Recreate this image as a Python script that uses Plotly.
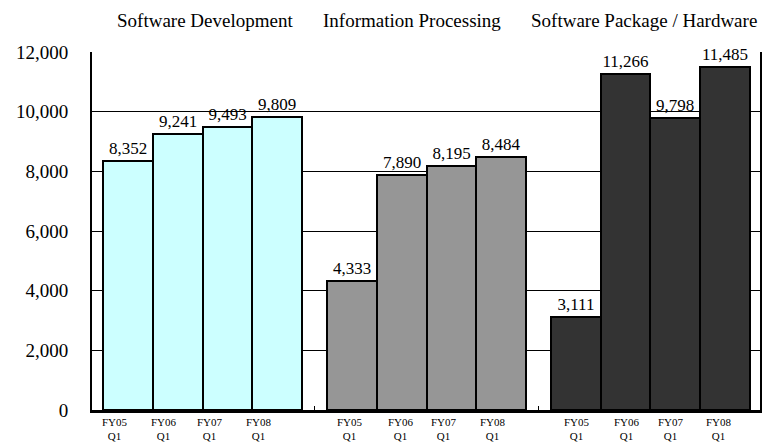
import plotly.graph_objects as go

groups = ["Software Development", "Information Processing", "Software Package / Hardware"]
periods = ["FY05<br>Q1", "FY06<br>Q1", "FY07<br>Q1", "FY08<br>Q1"]
sw_dev = [8352, 9241, 9493, 9809]
info_proc = [4333, 7890, 8195, 8484]
pkg_hw = [3111, 11266, 9798, 11485]
colors = ["#CCFFFF", "#969696", "#333333"]
y_ticks = [0, 2000, 4000, 6000, 8000, 10000, 12000]

FONT = "Liberation Serif, Times New Roman, serif"
# layout positions (x-axis units; one bar = 1 unit)
offsets = [0, 4.5, 9.0]
label_shift = [[-0.26, -0.28, -0.34, -0.36], [-0.04, -0.02, -0.14, -0.16], [0.02, 0.02, -0.08, -0.12]]
title_x = [1.56, 5.7, 10.36]
series = [sw_dev, info_proc, pkg_hw]

fig = go.Figure()
for g, (vals, off, col) in enumerate(zip(series, offsets, colors)):
    xs = [off + i for i in range(len(vals))]
    fig.add_trace(go.Bar(
        x=xs, y=vals, width=1.0, name=groups[g],
        marker=dict(color=col, line=dict(color="black", width=2)),
        text=[f"{v:,}" for v in vals], textposition="outside",
        textfont=dict(family=FONT, size=17, color="black"),
        cliponaxis=False, showlegend=False, hoverinfo="skip",
    ))
    fig.add_annotation(
        x=title_x[g], y=1, yref="paper", yshift=32, yanchor="middle",
        text=groups[g], showarrow=False,
        font=dict(family=FONT, size=19, color="black"),
    )
    for i, p in enumerate(periods):
        fig.add_annotation(
            x=xs[i] + label_shift[g][i], y=0, yref="paper", yshift=-4, yanchor="top",
            text=p, showarrow=False,
            font=dict(family=FONT, size=11, color="black"),
        )

fig.update_layout(
    width=762, height=444,
    margin=dict(l=92, r=0, t=52, b=34),
    plot_bgcolor="white", paper_bgcolor="white",
    font=dict(family=FONT, color="black"),
    bargap=0,
)
fig.update_xaxes(
    range=[-0.72, 12.7], tickvals=[3.75, 8.25], ticktext=["", ""],
    showgrid=False, showline=True, linecolor="black", linewidth=3,
    mirror=False, ticks="inside", ticklen=4, tickcolor="black", tickwidth=1,
    zeroline=False,
)
fig.update_yaxes(
    range=[0, 12000], tickvals=y_ticks, tickformat=",",
    tickfont=dict(family=FONT, size=19, color="black"),
    showgrid=True, gridcolor="black", gridwidth=1,
    showline=True, linecolor="black", linewidth=2, mirror=True,
    ticks="inside", ticklen=10, tickcolor="black", zeroline=False,
    ticklabelstandoff=18,
)
fig.write_html(
    "out.html",
    config={"displayModeBar": False},
    post_script="document.body.style.margin='0';document.body.style.padding='0';",
)
